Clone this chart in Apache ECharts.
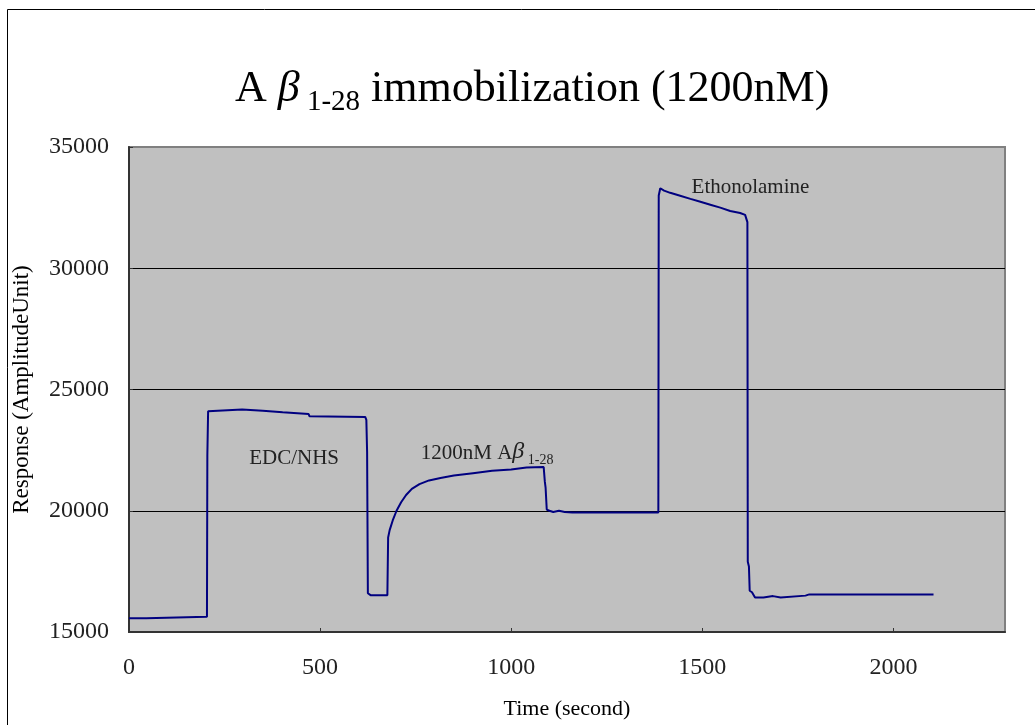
<!DOCTYPE html>
<html>
<head>
<meta charset="utf-8">
<script src="https://cdn.jsdelivr.net/npm/echarts@6/dist/echarts.min.js"></script>
<style>
html,body{margin:0;padding:0;background:#fff;}
#chart{width:1035px;height:725px;}
</style>
</head>
<body>
<div id="chart"></div>
<script>
// Time (second)
const timeSec = [0,45,46,204,205,207,210,296,298,350,352,402,404,470,472,618,621,623,625,632,676,678,682,690,700,712,725,740,760,785,815,850,900,950,1000,1040,1085,1088,1090,1093,1100,1110,1125,1140,1160,1385,1386,1390,1400,1416,1442,1469,1495,1521,1547,1573,1599,1612,1618,1619,1622,1624,1630,1638,1660,1665,1685,1690,1705,1710,1770,1780,2105];
// Response (AmplitudeUnit)
const response = [15570,15570,15630,15630,22300,24100,24180,24180,24120,24120,24060,24060,23990,23990,23900,23870,23750,22400,16600,16520,16520,18900,19200,19600,20000,20350,20650,20900,21100,21250,21350,21450,21550,21650,21700,21780,21800,21200,20950,20050,20000,19950,20000,19950,19930,19930,33000,33300,33200,33110,32990,32860,32740,32620,32500,32360,32280,32200,31900,17900,17700,16700,16640,16420,16420,16480,16480,16420,16420,16500,16500,16550,16550];
const yTicks = [15000, 20000, 25000, 30000, 35000];
const xTicks = [0, 500, 1000, 1500, 2000];
// annotations: [time, response, text]
const noteTimes = [432, 937, 1626];
const noteValues = [22150, 22500, 33320];
const noteTexts = ['EDC/NHS', '{t|1200nM A}{b|β}{s| 1-28}', 'Ethonolamine'];

const serif = '"Liberation Serif", "Times New Roman", serif';
const chart = echarts.init(document.getElementById('chart'));
const lineData = timeSec.map((t, i) => [t, response[i]]);
const notes = noteTimes.map((t, i) => ({coord: [t, noteValues[i]], value: noteTexts[i]}));

chart.setOption({
  animation: false,
  backgroundColor: '#fff',
  title: {
    text: '{m|A }{b|β}{s| 1-28}{m| immobilization (1200nM)}',
    left: 230, top: 54,
    textStyle: {
      fontWeight: 'normal',
      rich: {
        m: {fontFamily: serif, fontSize: 44, fontWeight: 'normal', color: '#000', lineHeight: 52, verticalAlign: 'bottom'},
        b: {fontFamily: serif, fontSize: 44, fontWeight: 'normal', fontStyle: 'italic', color: '#000', lineHeight: 52, verticalAlign: 'bottom'},
        s: {fontFamily: serif, fontSize: 29, fontWeight: 'normal', color: '#000', lineHeight: 52, verticalAlign: 'bottom', padding: [0,0,-6,0]}
      }
    }
  },
  graphic: [{
    type: 'rect', shape: {x: 7.5, y: 9.5, width: 1200, height: 900},
    style: {fill: 'none', stroke: '#000', lineWidth: 1}, z: -10
  }],
  grid: {
    left: 129, top: 147, right: 30, bottom: 91,
    show: true, backgroundColor: '#C0C0C0', borderColor: '#808080', borderWidth: 2
  },
  xAxis: {
    type: 'value', min: 0, max: 2292, interval: 500,
    name: 'Time (second)', nameLocation: 'middle', nameGap: 66,
    nameTextStyle: {fontFamily: serif, fontSize: 22, color: '#000'},
    axisLine: {show: true, lineStyle: {color: '#333', width: 2}},
    axisTick: {show: true, inside: true, length: 4, lineStyle: {color: '#333', width: 1}},
    axisLabel: {
      fontFamily: serif, fontSize: 24, color: '#222', margin: 24,
      showMaxLabel: false,
      formatter: v => xTicks.includes(v) ? String(v) : ''
    },
    splitLine: {show: false}
  },
  yAxis: {
    type: 'value', min: 15000, max: 35000, interval: 5000,
    name: 'Response (AmplitudeUnit)', nameLocation: 'middle', nameGap: 96,
    nameTextStyle: {fontFamily: serif, fontSize: 23, color: '#000'},
    axisLine: {show: true, lineStyle: {color: '#333', width: 2}},
    axisTick: {show: true, inside: true, length: 4, lineStyle: {color: '#333', width: 1}},
    axisLabel: {
      fontFamily: serif, fontSize: 24, color: '#222', margin: 20,
      formatter: v => yTicks.includes(v) ? String(v) : ''
    },
    splitLine: {show: true, lineStyle: {color: ['#808080', '#000', '#000', '#000', '#808080'], width: 1}}
  },
  series: [{
    type: 'line',
    data: lineData,
    showSymbol: false,
    symbol: 'none',
    lineStyle: {color: '#000080', width: 2},
    markPoint: {
      symbol: 'circle', symbolSize: 1,
      itemStyle: {color: 'rgba(0,0,0,0)'},
      label: {
        show: true, position: 'inside',
        formatter: p => p.value,
        fontFamily: serif, fontSize: 21, color: '#222',
        rich: {
          t: {fontFamily: serif, fontSize: 21, color: '#222', lineHeight: 28, verticalAlign: 'bottom'},
          b: {fontFamily: serif, fontSize: 24, fontStyle: 'italic', color: '#222', lineHeight: 28, verticalAlign: 'bottom'},
          s: {fontFamily: serif, fontSize: 14, color: '#222', lineHeight: 28, verticalAlign: 'bottom', padding: [0,0,-3,0]}
        }
      },
      data: notes
    }
  }]
});
</script>
</body>
</html>
